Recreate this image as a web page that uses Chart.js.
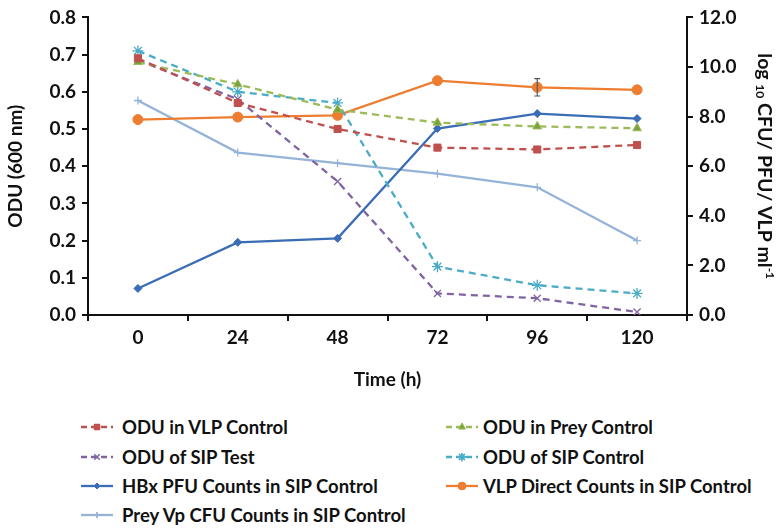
<!DOCTYPE html>
<html>
<head>
<meta charset="utf-8">
<script src="https://cdn.jsdelivr.net/npm/chart.js@4"></script>
<style>
  html, body { margin:0; padding:0; background:#fff; }
  #wrap { position:relative; width:783px; height:528px; }
  #c { position:absolute; left:0; top:0; }
  .leg { position:absolute; font-family: Lato, "Open Sans", sans-serif; font-weight:700; font-size:18.5px; color:#111; white-space:nowrap; line-height:22px; }
  .leg canvas { position:absolute; left:0; top:1px; }
</style>
</head>
<body>
<div id="wrap">
  <canvas id="c" width="783" height="395"></canvas>
</div>
<script>
const categories = ['0', '24', '48', '72', '96', '120'];
const oduVlpControl  = [0.69, 0.57, 0.50, 0.45, 0.445, 0.457];
const oduPreyControl = [0.68, 0.62, 0.552, 0.517, 0.507, 0.502];
const oduSipTest     = [0.685, 0.58, 0.359, 0.058, 0.045, 0.008];
const oduSipControl  = [0.71, 0.60, 0.57, 0.13, 0.08, 0.058];
const hbxPfu         = [1.07, 2.93, 3.09, 7.52, 8.12, 7.92];
const vlpDirect      = [7.88, 7.98, 8.05, 9.45, 9.18, 9.08];
const vlpDirectErr   = [0, 0, 0, 0, 0.35, 0];
const preyVpCfu      = [8.65, 6.55, 6.12, 5.7, 5.15, 3.0];
const leftTicks  = [0, 0.1, 0.2, 0.3, 0.4, 0.5, 0.6, 0.7, 0.8];
const rightTicks = [0, 2, 4, 6, 8, 10, 12];
const rightTitleParts = [['log ', 0], ['10', 1], [' CFU/ PFU/ VLP ml', 0], ['-1', -1]];

const FONT = 'Lato, "Open Sans", sans-serif';
const dash = [7, 5];

const datasets = [
  {label:'ODU in VLP Control', data:oduVlpControl, yAxisID:'y', borderColor:'#C0504D', backgroundColor:'#C0504D', borderDash:dash, pointStyle:'rect', pointRadius:5},
  {label:'ODU in Prey Control', data:oduPreyControl, yAxisID:'y', borderColor:'#9BBB59', backgroundColor:'#77A33A', borderDash:dash, pointStyle:'triangle', pointRadius:5},
  {label:'ODU of SIP Test', data:oduSipTest, yAxisID:'y', borderColor:'#8064A2', backgroundColor:'#8064A2', borderDash:dash, pointStyle:'crossRot', pointRadius:5, pointBorderWidth:1.3},
  {label:'ODU of SIP Control', data:oduSipControl, yAxisID:'y', borderColor:'#4BACC6', backgroundColor:'#4BACC6', borderDash:dash, pointStyle:'star', pointRadius:5.5, pointBorderWidth:1.3},
  {label:'HBx PFU Counts in SIP Control', data:hbxPfu, yAxisID:'y1', borderColor:'#3A6DB5', backgroundColor:'#3A6DB5', pointStyle:'rectRot', pointRadius:4},
  {label:'VLP Direct Counts in SIP Control', data:vlpDirect, yAxisID:'y1', borderColor:'#ED7D31', backgroundColor:'#ED7D31', pointStyle:'circle', pointRadius:5},
  {label:'Prey Vp CFU Counts in SIP Control', data:preyVpCfu, yAxisID:'y1', borderColor:'#95B3D7', backgroundColor:'#95B3D7', pointStyle:'cross', pointRadius:4, pointBorderWidth:1.3}
];
datasets.forEach(d => { d.borderWidth = d.borderWidth || 2.3; d.pointBorderColor = d.borderColor; d.tension = 0; if(!d.pointBorderWidth) d.pointBorderWidth = 1; });

const errPlugin = {
  id:'err',
  afterDatasetsDraw(chart){
    const ctx = chart.ctx, x = chart.scales.x, y = chart.scales.y1;
    ctx.save(); ctx.strokeStyle = '#555'; ctx.lineWidth = 1.2;
    vlpDirectErr.forEach((e,i)=>{
      if(!e) return;
      const px = x.getPixelForValue(i);
      const t = y.getPixelForValue(vlpDirect[i]+e), b = y.getPixelForValue(vlpDirect[i]-e);
      ctx.beginPath(); ctx.moveTo(px,t); ctx.lineTo(px,b);
      ctx.moveTo(px-3,t); ctx.lineTo(px+3,t); ctx.moveTo(px-3,b); ctx.lineTo(px+3,b); ctx.stroke();
    });
    ctx.restore();
  }
};

const rightTitlePlugin = {
  id:'rtitle',
  afterDraw(chart){
    const ctx = chart.ctx, ca = chart.chartArea;
    const big = 'bold 19.5px ' + FONT, small = 'bold 12px ' + FONT;
    ctx.save();
    let w = 0;
    rightTitleParts.forEach(([t,k])=>{ ctx.font = k ? small : big; w += ctx.measureText(t).width; });
    ctx.translate(chart.width - 19, (ca.top + ca.bottom)/2);
    ctx.rotate(Math.PI/2);
    ctx.fillStyle = '#111'; ctx.textBaseline = 'middle'; ctx.textAlign = 'left';
    let x = -w/2;
    rightTitleParts.forEach(([t,k])=>{
      ctx.font = k ? small : big;
      ctx.fillText(t, x, k === 1 ? 4 : (k === -1 ? -6 : 0));
      x += ctx.measureText(t).width;
    });
    ctx.restore();
  }
};

const tickFont = {family:FONT, size:19, weight:'bold'};
const titleFont = {family:FONT, size:19, weight:'bold'};
new Chart(document.getElementById('c'), {
  type:'line',
  data:{labels:categories, datasets},
  plugins:[errPlugin, rightTitlePlugin],
  options:{
    responsive:false, animation:false,
    layout:{padding:{top:3, left:0, right:0, bottom:0}},
    plugins:{legend:{display:false}, tooltip:{enabled:false}},
    scales:{
      x:{
        offset:true,
        grid:{offset:true, drawOnChartArea:false, drawTicks:true, tickLength:6, color:'#111', lineWidth:2},
        border:{color:'#111', width:2},
        ticks:{color:'#111', font:tickFont, padding:5, maxRotation:0},
        title:{display:true, text:'Time (h)', color:'#111', font:titleFont, padding:{top:0}},
        afterFit(s){ s.height = 80; }
      },
      y:{
        position:'left', min:0, max:0.8,
        afterBuildTicks(s){ s.ticks = leftTicks.map(v=>({value:v})); },
        grid:{drawOnChartArea:false, tickLength:6, color:'#111', lineWidth:2},
        border:{color:'#111', width:2},
        ticks:{color:'#111', font:tickFont, padding:6, callback:v=>Number(v).toFixed(1)},
        title:{display:true, text:'ODU (600 nm)', color:'#111', font:titleFont, padding:{bottom:2}},
        afterFit(s){ s.width = 88; }
      },
      y1:{
        position:'right', min:0, max:12,
        afterBuildTicks(s){ s.ticks = rightTicks.map(v=>({value:v})); },
        grid:{drawOnChartArea:false, tickLength:6, color:'#111', lineWidth:2},
        border:{color:'#111', width:2},
        ticks:{color:'#111', font:tickFont, padding:6, callback:v=>Number(v).toFixed(1)},
        title:{display:false},
        afterFit(s){ s.width = 96; }
      }
    }
  }
});

// HTML legend
const legPos = [[80,416],[445,416],[80,446],[445,446],[80,475],[445,475],[80,504]];
const wrap = document.getElementById('wrap');
datasets.forEach((d,i)=>{
  const el = document.createElement('div');
  el.className = 'leg';
  el.style.left = legPos[i][0]+'px'; el.style.top = legPos[i][1]+'px';
  el.style.paddingLeft = (i%2===0 ? 42 : 38)+'px';
  const cv = document.createElement('canvas'); cv.width = 34; cv.height = 20;
  const ctx = cv.getContext('2d');
  ctx.strokeStyle = d.borderColor; ctx.lineWidth = 2.3;
  if(d.borderDash && d.borderDash.length){ ctx.setLineDash([6,4]); }
  ctx.beginPath(); ctx.moveTo(1,10); ctx.lineTo(33,10); ctx.stroke(); ctx.setLineDash([]);
  ctx.lineWidth = d.pointBorderWidth||1;
  Chart.helpers.drawPoint(ctx, {pointStyle:d.pointStyle, radius:d.pointRadius*0.75, borderWidth:d.pointBorderWidth||1}, 17, 10);
  ctx.fillStyle = d.backgroundColor; ctx.fill(); ctx.stroke();
  el.appendChild(cv);
  el.appendChild(document.createTextNode(d.label));
  wrap.appendChild(el);
});
</script>
</body>
</html>
